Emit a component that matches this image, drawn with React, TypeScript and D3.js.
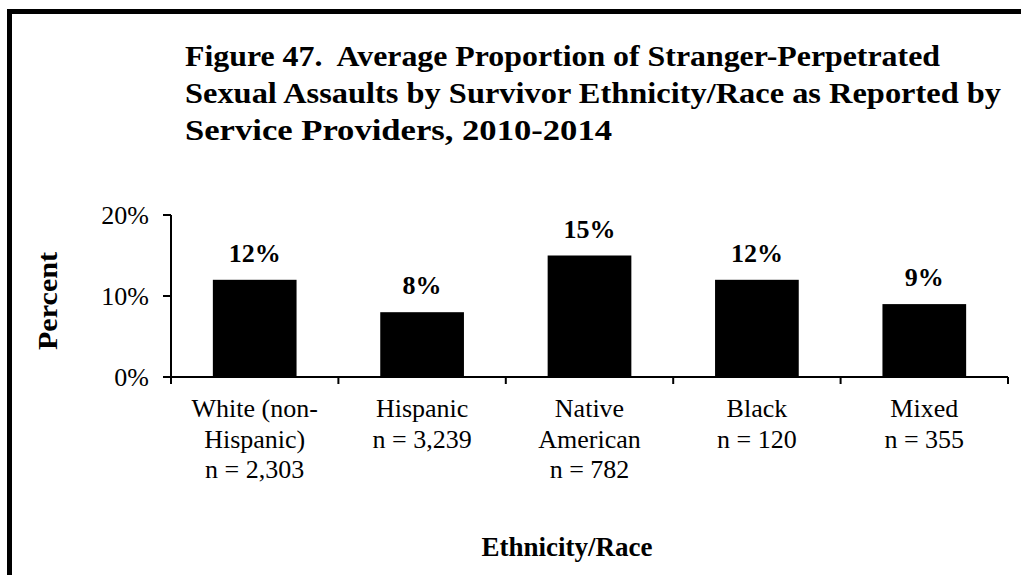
import React from "react";
import * as d3 from "d3";

const categories: string[][] = [
  ["White (non-", "Hispanic)", "n = 2,303"],
  ["Hispanic", "n = 3,239"],
  ["Native", "American", "n = 782"],
  ["Black", "n = 120"],
  ["Mixed", "n = 355"],
];
const categoryKeys = ["White", "Hispanic", "Native American", "Black", "Mixed"];
const values = [0.12, 0.08, 0.15, 0.12, 0.09];
const valueLabels = ["12%", "8%", "15%", "12%", "9%"];
const yTicks = [0, 0.1, 0.2];
const titleLines = [
  "Figure 47.  Average Proportion of Stranger-Perpetrated",
  "Sexual Assaults by Survivor Ethnicity/Race as Reported by",
  "Service Providers, 2010-2014",
];
const titleWidths = [755, 816, 427];

const W = 1021;
const H = 575;
const FONT = "'Liberation Serif', 'Times New Roman', Times, serif";

export default function App() {
  const x = d3.scaleBand<string>().domain(categoryKeys).range([171, 1008]).paddingInner(0.5).paddingOuter(0.25);
  const xOuter = d3.scaleBand<string>().domain(categoryKeys).range([171, 1008]);
  const y = d3.scaleLinear().domain([0, 0.2]).range([377, 215]);
  const fmt = d3.format(".0%");

  return (
    <svg width={W} height={H} style={{ position: "absolute", left: 0, top: 0, background: "#fff" }} fontFamily={FONT}>
      <rect x={0} y={0} width={W} height={H} fill="#fff" />
      <rect x={9.5} y={11.5} width={W + 50} height={H + 50} fill="none" stroke="#000" strokeWidth={5} />
      {titleLines.map((t, i) => (
        <text
          key={i}
          x={185}
          y={66 + i * 37}
          fontSize={29}
          fontWeight="bold"
          fill="#000"
          textLength={titleWidths[i]}
          lengthAdjust="spacingAndGlyphs"
          style={{ whiteSpace: "pre" }}
        >
          {t}
        </text>
      ))}
      {/* bars */}
      {values.map((v, i) => (
        <g key={i}>
          <rect x={x(categoryKeys[i])} y={y(v)} width={x.bandwidth()} height={y(0) - y(v)} fill="#000" />
          <text x={x(categoryKeys[i])! + x.bandwidth() / 2} y={y(v) - 18} textAnchor="middle" fontSize={26} fontWeight="bold" fill="#000">
            {valueLabels[i]}
          </text>
        </g>
      ))}
      {/* y axis */}
      <line x1={171} x2={171} y1={y(0.2)} y2={y(0)} stroke="#000" strokeWidth={2} />
      {yTicks.map((t) => (
        <g key={t}>
          <line x1={163} x2={171} y1={y(t)} y2={y(t)} stroke="#000" strokeWidth={2} />
          <text x={149} y={y(t) + 9} textAnchor="end" fontSize={26} fill="#000">
            {fmt(t)}
          </text>
        </g>
      ))}
      {/* x axis */}
      <line x1={163} x2={1008} y1={y(0)} y2={y(0)} stroke="#000" strokeWidth={2} />
      {categoryKeys.map((k, i) => (
        <line key={"t" + i} x1={xOuter(k)} x2={xOuter(k)} y1={y(0)} y2={y(0) + 7} stroke="#000" strokeWidth={2} />
      ))}
      <line x1={1008} x2={1008} y1={y(0)} y2={y(0) + 7} stroke="#000" strokeWidth={2} />
      {categories.map((lines, i) => (
        <text key={"c" + i} textAnchor="middle" fontSize={26} fill="#000">
          {lines.map((l, j) => (
            <tspan key={j} x={xOuter(categoryKeys[i])! + xOuter.bandwidth() / 2} y={417 + j * 30.5}>
              {l}
            </tspan>
          ))}
        </text>
      ))}
      <text x={567} y={556} textAnchor="middle" fontSize={27} fontWeight="bold" fill="#000">
        Ethnicity/Race
      </text>
      <text
        transform={`translate(57,301) rotate(-90)`}
        textAnchor="middle"
        fontSize={28}
        fontWeight="bold"
        fill="#000"
        textLength={98}
        lengthAdjust="spacingAndGlyphs"
      >
        Percent
      </text>
    </svg>
  );
}
